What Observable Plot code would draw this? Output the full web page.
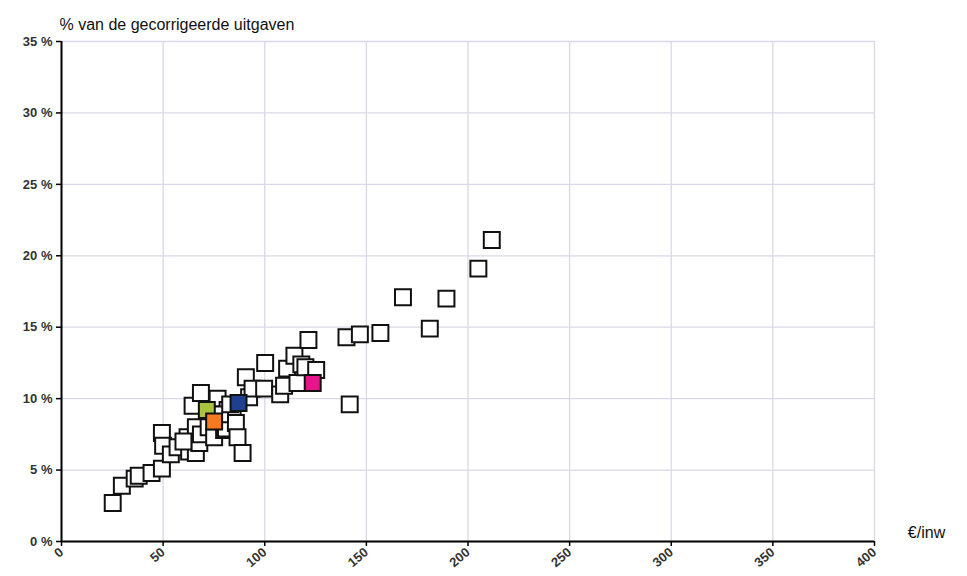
<!DOCTYPE html>
<html>
<head>
<meta charset="utf-8">
<script src="https://cdn.jsdelivr.net/npm/d3@7"></script>
<script src="https://cdn.jsdelivr.net/npm/@observablehq/plot@0.6"></script>
<style>
  html, body { margin: 0; padding: 0; background: #fff; }
  #chart { width: 967px; height: 576px; }
</style>
</head>
<body>
<div id="chart"></div>
<script>
// Municipalities: expenditure per inhabitant (€/inw) vs % of corrected expenditure
const otherX = [25.2, 29.7, 36.0, 38.0, 44.3, 49.4, 49.4, 50.0, 53.8, 57.1, 62.0, 62.8, 66.1, 67.8, 64.5, 68.6, 66.1, 68.6, 72.4, 75.1, 76.8, 80.0, 80.9, 81.7, 84.2, 85.8, 86.6, 89.1, 90.7, 92.3, 94.0, 99.7, 100.2, 107.6, 109.5, 111.0, 114.6, 116.1, 118.0, 120.0, 121.5, 125.3, 140.2, 146.8, 156.9, 168.0, 181.2, 189.4, 141.8, 205.1, 211.7, 60.0, 78.0, 83.0];
const otherY = [2.7, 3.9, 4.4, 4.6, 4.8, 5.1, 7.6, 6.7, 6.1, 6.6, 7.3, 6.3, 6.2, 6.9, 9.5, 10.4, 8.0, 7.5, 8.0, 7.3, 10.0, 7.8, 7.9, 9.2, 9.2, 8.3, 7.3, 6.2, 11.5, 10.1, 10.7, 10.7, 12.5, 10.3, 10.9, 12.1, 13.0, 11.1, 12.4, 12.2, 14.1, 12.0, 14.3, 14.5, 14.6, 17.1, 14.9, 17.0, 9.6, 19.1, 21.1, 7.0, 8.9, 9.6];

const highlightX = [71.5, 75.1, 87.1, 123.6];
const highlightY = [9.2, 8.4, 9.7, 11.1];
const highlightColor = ["#a9c23f", "#f47b20", "#1f3f8f", "#e6168a"];

const xTicks = [0, 50, 100, 150, 200, 250, 300, 350, 400];
const yTicks = [0, 5, 10, 15, 20, 25, 30, 35];

const yTitle = "% van de gecorrigeerde uitgaven";
const xTitle = "€/inw";

const others = otherX.map((x, i) => ({x, y: otherY[i]}));
const highlights = highlightX.map((x, i) => ({x, y: highlightY[i], c: highlightColor[i]}));

const chart = Plot.plot({
  width: 967,
  height: 576,
  marginLeft: 61,
  marginRight: 93,
  marginTop: 41,
  marginBottom: 35,
  style: {fontFamily: "Liberation Sans, Arial, sans-serif", fontSize: "13px", color: "#222", background: "#fff"},
  x: {domain: [0, 400], ticks: xTicks, label: null},
  y: {domain: [0, 35], ticks: yTicks, label: null},
  marks: [
    Plot.gridX(xTicks, {stroke: "#d8d8ea", strokeOpacity: 1, strokeWidth: 1.3}),
    Plot.gridY(yTicks, {stroke: "#d8d8ea", strokeOpacity: 1, strokeWidth: 1.3}),
    Plot.axisX(xTicks, {tickRotate: -40, tickSize: 5, tickPadding: 4, stroke: "#000", strokeWidth: 1.5, fill: "#333", fontSize: 13, fontWeight: "bold", label: null}),
    Plot.axisY(yTicks, {tickSize: 5, tickPadding: 4, stroke: "#000", strokeWidth: 1.5, fill: "#333", fontSize: 13, fontWeight: "bold", tickFormat: d => d + " %", label: null}),
    Plot.ruleX([0], {stroke: "#000", strokeWidth: 2}),
    Plot.ruleY([0], {stroke: "#000", strokeWidth: 2}),
    Plot.dot(others, {x: "x", y: "y", symbol: "square", r: 9, fill: "#fff", stroke: "#111", strokeWidth: 2}),
    Plot.dot(highlights, {x: "x", y: "y", symbol: "square", r: 9, fill: "c", stroke: "#111", strokeWidth: 2}),
    Plot.text([yTitle], {frameAnchor: "top-left", dx: -2, dy: -23, text: d => d, textAnchor: "start", fontSize: 16, fill: "#111"}),
    Plot.text([xTitle], {frameAnchor: "bottom-right", dx: 52, dy: -4, text: d => d, textAnchor: "middle", fontSize: 16, fill: "#111"})
  ]
});
document.getElementById("chart").appendChild(chart);
</script>
</body>
</html>
